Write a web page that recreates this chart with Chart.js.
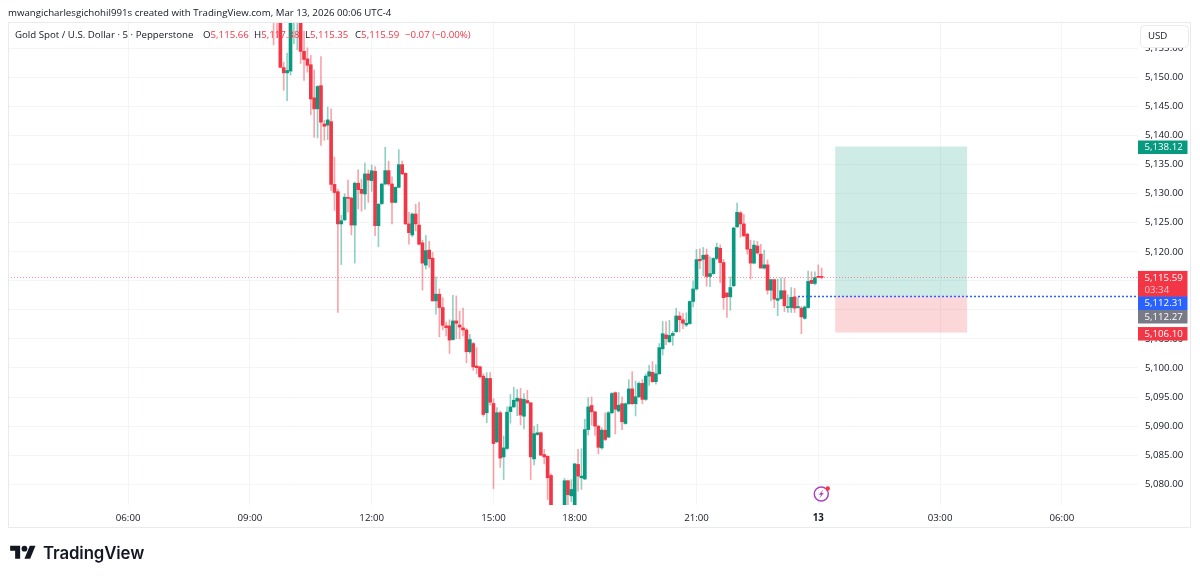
<!DOCTYPE html>
<html>
<head>
<meta charset="utf-8">
<title>Gold Spot / U.S. Dollar</title>
<script src="https://cdn.jsdelivr.net/npm/chart.js@4"></script>
<style>
    body { margin: 0; background: #fff; width: 1200px; height: 578px; overflow: hidden; position: relative; }
    canvas { display: block; position: absolute; left: 0; top: 0; }
    .txt { position: absolute; white-space: nowrap; font: 9.7px "Open Sans", sans-serif; color: #131722; }
    .red { color: #f23645; }
    .logo { font: 600 16.8px Inter, sans-serif; left: 43px; top: 543px; letter-spacing: -0.1px; }
</style>
</head>
<body>
<canvas id="myChart" width="1200" height="578"></canvas>
<div class="txt" style="left:8px;top:6px">mwangicharlesgichohil991s created with TradingView.com, Mar 13, 2026 00:06 UTC-4</div>
<div class="txt" style="left:15px;top:28px">Gold Spot / U.S. Dollar · 5 · Pepperstone</div>
<div class="txt" style="left:203px;top:28px">O<span class="red">5,115.66</span></div>
<div class="txt" style="left:254px;top:28px">H<span class="red">5,117.38</span></div>
<div class="txt" style="left:305px;top:28px">L<span class="red">5,115.35</span></div>
<div class="txt" style="left:355px;top:28px">C<span class="red">5,115.59</span></div>
<div class="txt red" style="left:405px;top:28px">−0.07 (−0.00%)</div>
<svg style="position:absolute;left:10px;top:543px" width="26" height="20" viewBox="0 0 36 28"><path d="M14 22H7V11H0V4h14v18zM28 22h-8l7.5-18h8L28 22z" fill="#131722"/><circle cx="20" cy="8" r="4" fill="#131722"/></svg>
<div class="txt logo">TradingView</div>
<script>
// time axis starts at 03:05, 5 minute bars, no bars in the 17:00-18:00 break
const categories = [];
let minutes = 185;
for (let n = 0; n < 334; n++) {
    categories.push(String(Math.floor(minutes / 60)).padStart(2, '0') + ':' + String(minutes % 60).padStart(2, '0'));
    minutes += 5;
    if (minutes === 1020) minutes = 1080;
    minutes = minutes % 1440;
}

const xTickTimes = ['06:00', '09:00', '12:00', '15:00', '18:00', '21:00', '00:00', '03:00'];
const xTickLabels = ['06:00', '09:00', '12:00', '15:00', '18:00', '21:00', '13', '03:00'];

const firstBarTime = '09:35';

const opens = [
    5164, 5162, 5162, 5151.7, 5150.8, 5151.1, 5161, 5162.5, 5161, 5154.5,
    5153.2, 5152.2, 5146.5, 5144.6, 5148.6, 5142, 5141.8, 5142.4, 5131.6, 5130.35,
    5124.8, 5125.5, 5129.3, 5129.25, 5124.6, 5131.8, 5130.75, 5129.95, 5133.4, 5132.25,
    5133.85, 5124.5, 5128.3, 5131.67, 5133.97, 5131.67, 5128.5, 5131.1, 5135, 5133.5,
    5124.8, 5122.9, 5126.5, 5124.6, 5121.55, 5117.7, 5120.3, 5118.9, 5111.55, 5112.7,
    5110.4, 5107.25, 5107.25, 5104.9, 5108.1, 5107.4, 5106.9, 5106.55, 5102.8, 5104.2,
    5100.35, 5100.2, 5098.6, 5092.3, 5098.2, 5093.9, 5087.3, 5092.3, 5084.7, 5086.15,
    5092.5, 5093.3, 5094.3, 5094.7, 5091.7, 5094.4, 5094, 5084.35, 5088.55, 5088.85,
    5085.1, 5084.8, 5081.5, 5075, 5074, 5073, 5074, 5080.6, 5078, 5075,
    5083.4, 5081.1, 5080.9, 5089.4, 5093.55, 5092.45, 5090, 5086.25, 5089.3, 5088.1,
    5092.3, 5095.75, 5092.6, 5093.85, 5090.45, 5093.85, 5096.4, 5093.85, 5095.05, 5097.35,
    5094.6, 5098.6, 5099.25, 5097.65, 5099, 5103.3, 5105.7, 5104.5, 5105.6, 5106.25,
    5108.95, 5108.3, 5107.4, 5107.65, 5111.45, 5113.6, 5118.7, 5118.7, 5119.45, 5115.75,
    5116.25, 5118.85, 5120.6, 5118.15, 5112.9, 5112.25, 5114.15, 5124.3, 5126.7, 5124.8,
    5123.05, 5120.45, 5118.05, 5121, 5119.6, 5117.2, 5117.75, 5113.4, 5115.2, 5111.65,
    5111.95, 5113.3, 5110.4, 5110.4, 5112.25, 5110.4, 5110.3, 5108.55, 5110.4, 5115.1,
    5114.55, 5115.7, 5115.66
];
const highs = [
    5165, 5165, 5164, 5152.6, 5154.2, 5162, 5164, 5164, 5163, 5158,
    5155.1, 5153.8, 5151.3, 5148.6, 5153.6, 5142.6, 5144.9, 5144.6, 5136.3, 5130.8,
    5126.3, 5130, 5132.35, 5129.4, 5132, 5134.1, 5132.5, 5135.25, 5134.1, 5134.95,
    5134.65, 5128.3, 5131.7, 5138, 5135.6, 5132.9, 5131.2, 5137.6, 5135.6, 5133.6,
    5126.8, 5126.7, 5128.2, 5128.5, 5122, 5122.8, 5121.8, 5119.9, 5115.7, 5113.6,
    5112.1, 5107.9, 5108.3, 5112.5, 5112.4, 5109.8, 5110.3, 5106.8, 5105.8, 5104.4,
    5103.5, 5100.3, 5099, 5099.2, 5099.2, 5094.7, 5093.2, 5092.6, 5088.3, 5093.3,
    5095.45, 5096.7, 5096.3, 5096.5, 5095.6, 5096.15, 5094.1, 5090, 5090.3, 5089,
    5086, 5084.9, 5081.8, 5075.5, 5075.4, 5075, 5081, 5080.7, 5080.8, 5083.55,
    5086, 5086.1, 5091.15, 5094.9, 5095, 5092.6, 5090.1, 5089.7, 5092.3, 5092.5,
    5095.75, 5095.9, 5095.8, 5095, 5094, 5098, 5099.35, 5097.75, 5097.6, 5098,
    5099, 5100.45, 5101.1, 5100.6, 5104.2, 5108, 5108, 5108.2, 5106.3, 5110.3,
    5109.65, 5109.4, 5109.5, 5111.55, 5115, 5120.4, 5120.5, 5120.75, 5120.5, 5119.15,
    5119, 5121.5, 5121.2, 5118.7, 5113, 5115.7, 5124.2, 5128.4, 5127, 5126.4,
    5123.2, 5122, 5121.9, 5121.8, 5121.3, 5120.3, 5118.6, 5115.3, 5115.3, 5115.3,
    5115.5, 5115.5, 5112.6, 5113.85, 5113.7, 5112.1, 5110.6, 5110.7, 5116.7, 5116.55,
    5116.55, 5117.75, 5117.2
];
const lows = [
    5155.6, 5156.8, 5151.7, 5147.8, 5146, 5150.4, 5155.8, 5154.8, 5152.4, 5149.5,
    5150.9, 5143.6, 5139.7, 5139.6, 5138.3, 5139.2, 5139.3, 5130.5, 5127.1, 5109.55,
    5117.8, 5125.35, 5126.8, 5122.9, 5118.05, 5127.4, 5127, 5127.35, 5128.5, 5130.4,
    5122.76, 5120.86, 5128.1, 5131.5, 5131.4, 5124.8, 5128.4, 5131, 5133.3, 5124.7,
    5121.3, 5122.6, 5123.6, 5121.2, 5113.4, 5117, 5117.3, 5111.5, 5109.25, 5105.35,
    5106.55, 5105.5, 5102.5, 5104.8, 5105.05, 5105.05, 5105.5, 5100.9, 5102.5, 5099.6,
    5099, 5098.3, 5091.7, 5090.6, 5093.6, 5079.25, 5087.1, 5082.9, 5080.8, 5086,
    5090.5, 5093.2, 5091.8, 5090.2, 5089.5, 5093.9, 5080.8, 5083.3, 5088.4, 5084.9,
    5083.5, 5077.35, 5074, 5073, 5072, 5071.5, 5073.5, 5076.3, 5077, 5074.5,
    5078.8, 5079.1, 5080.8, 5088.45, 5090.15, 5088.4, 5085.2, 5086, 5087.5, 5088,
    5092.1, 5088.65, 5092.4, 5089.4, 5090.3, 5093.7, 5093.7, 5091.75, 5094.9, 5093.85,
    5094.4, 5097, 5097.5, 5097.2, 5098.9, 5102.25, 5104, 5104.4, 5103.9, 5106.1,
    5106.2, 5106.75, 5107.1, 5107.5, 5110.5, 5113.4, 5117.1, 5115.85, 5114.1, 5114,
    5116.1, 5118.6, 5114.7, 5110.1, 5108.7, 5109.95, 5114, 5124.2, 5122.5, 5122.6,
    5119.6, 5115.3, 5117.9, 5119.6, 5117.2, 5117, 5112.7, 5111.55, 5110.4, 5109,
    5111.8, 5109.7, 5109.55, 5109.55, 5109.55, 5110.3, 5105.9, 5108.4, 5110.3, 5114.5,
    5114.3, 5115.5, 5115.35
];
const closes = [
    5162, 5159.6, 5151.75, 5150.8, 5151.2, 5161, 5162.5, 5163, 5154.5, 5153.1,
    5152.1, 5146.3, 5144.6, 5148.45, 5142.3, 5141.6, 5142.7, 5131.6, 5130.2, 5124.8,
    5125.35, 5129.4, 5129.2, 5124.6, 5131.8, 5130.7, 5130.05, 5133.4, 5132.35, 5133.95,
    5124.5, 5128.2, 5131.67, 5133.97, 5131.67, 5128.5, 5131.1, 5135, 5133.4, 5124.8,
    5123.3, 5126.5, 5124.8, 5121.3, 5118.05, 5120.2, 5118.8, 5111.55, 5112.7, 5110.4,
    5107.35, 5106.95, 5104.8, 5108.1, 5107.7, 5107.05, 5106.55, 5102.8, 5104.9, 5100.2,
    5100.05, 5098.5, 5092, 5098.2, 5094.1, 5087, 5092.3, 5084.5, 5086.25, 5092.4,
    5093.3, 5094.45, 5094.8, 5091.9, 5094.6, 5094, 5084.7, 5088.7, 5088.85, 5085,
    5084.7, 5081.1, 5075.2, 5074, 5073, 5074, 5080.6, 5078.2, 5079.1, 5083.5,
    5081.4, 5081.4, 5089.4, 5093.3, 5092.45, 5090, 5086.35, 5089.3, 5087.7, 5092.3,
    5095.6, 5092.9, 5093.6, 5090.75, 5093.85, 5096.4, 5093.85, 5095.05, 5097.35, 5094.6,
    5098.6, 5099.35, 5097.65, 5099, 5103.5, 5105.9, 5105.05, 5105.6, 5105.95, 5108.95,
    5108.3, 5107.7, 5107.7, 5111.45, 5113.6, 5118.65, 5118.45, 5119.4, 5115.75, 5116.25,
    5118.85, 5120.75, 5118.15, 5112.1, 5112.25, 5113.85, 5124.1, 5126.8, 5124.8, 5122.75,
    5120.45, 5118.05, 5121.15, 5119.8, 5117.2, 5117.75, 5113.4, 5115.2, 5111.85, 5111.95,
    5113.3, 5110.7, 5110.5, 5112.15, 5110.3, 5110.5, 5108.8, 5110.5, 5114.9, 5114.55,
    5115.55, 5115.6, 5115.59
];

// long position tool and price lines
const targetPrice = 5138.12;
const entryPrice = 5112.31;
const stopPrice = 5106.10;
const lastPrice = 5115.59;
const avgPrice = 5112.27;
const countdown = '03:34';
const positionFrom = '00:25';
const positionTo = '03:40';
const entryLineFrom = '23:30';

const UP = '#089981';
const DOWN = '#f23645';
const UP_WICK = 'rgba(8, 153, 129, 0.45)';
const DOWN_WICK = 'rgba(242, 54, 69, 0.45)';
const GRID = '#f3f4f6';
const FRAME = '#e9eaee';
const FONT = '"Open Sans", sans-serif';
const FONT_SIZE = 9.7;

const firstBar = categories.indexOf(firstBarTime);
const barAt = (k) => (k >= firstBar && k - firstBar < opens.length ? k - firstBar : -1);

const bodies = categories.map((_, k) => (barAt(k) < 0 ? null : [opens[barAt(k)], closes[barAt(k)]]));
const wicks = categories.map((_, k) => (barAt(k) < 0 ? null : [lows[barAt(k)], highs[barAt(k)]]));
const isUp = (k) => barAt(k) >= 0 && closes[barAt(k)] >= opens[barAt(k)];

const fmt = (v) => v.toLocaleString('en-US', { minimumFractionDigits: 2, maximumFractionDigits: 2 });

function priceTag(ctx, y, h, color, text, sub) {
    ctx.fillStyle = color;
    ctx.fillRect(1138, y, 49.5, h);
    ctx.font = FONT_SIZE + 'px ' + FONT;
    ctx.textAlign = 'left';
    ctx.textBaseline = 'middle';
    ctx.fillStyle = '#fff';
    ctx.fillText(text, 1144.5, y + 7);
    if (sub) {
        ctx.fillStyle = 'rgba(255, 255, 255, 0.7)';
        ctx.fillText(sub, 1144.5, y + 19.5);
    }
}

const overlay = {
    id: 'overlay',
    beforeDatasetsDraw(chart) {
        const { ctx, scales: { x, y } } = chart;
        const left = x.getPixelForValue(categories.lastIndexOf(positionFrom));
        const right = x.getPixelForValue(categories.lastIndexOf(positionTo));
        ctx.save();
        ctx.fillStyle = 'rgba(8, 153, 129, 0.2)';
        ctx.fillRect(left, y.getPixelForValue(targetPrice), right - left, y.getPixelForValue(entryPrice) - y.getPixelForValue(targetPrice));
        ctx.fillStyle = 'rgba(242, 54, 69, 0.2)';
        ctx.fillRect(left, y.getPixelForValue(entryPrice), right - left, y.getPixelForValue(stopPrice) - y.getPixelForValue(entryPrice));
        ctx.restore();
    },
    afterDatasetsDraw(chart) {
        const { ctx, chartArea, scales: { x, y } } = chart;
        ctx.save();

        // last price and entry lines
        ctx.beginPath();
        ctx.setLineDash([1, 2]);
        ctx.lineWidth = 1;
        ctx.strokeStyle = 'rgba(242, 54, 69, 0.55)';
        ctx.moveTo(chartArea.left, Math.round(y.getPixelForValue(lastPrice)) + 0.5);
        ctx.lineTo(chartArea.right, Math.round(y.getPixelForValue(lastPrice)) + 0.5);
        ctx.stroke();

        ctx.beginPath();
        ctx.setLineDash([2, 2]);
        ctx.lineWidth = 1.4;
        ctx.strokeStyle = '#2962ff';
        ctx.moveTo(x.getPixelForValue(categories.lastIndexOf(entryLineFrom)), y.getPixelForValue(entryPrice));
        ctx.lineTo(chartArea.right, y.getPixelForValue(entryPrice));
        ctx.stroke();
        ctx.setLineDash([]);

        // frame
        ctx.lineWidth = 1;
        ctx.strokeStyle = FRAME;
        ctx.strokeRect(8.5, 22.5, 1182, 505);

        // USD box
        ctx.fillStyle = '#fff';
        ctx.beginPath();
        ctx.roundRect(1140.5, 25.5, 48, 22, 4);
        ctx.fill();
        ctx.stroke();
        ctx.fillStyle = '#131722';
        ctx.font = FONT_SIZE + 'px ' + FONT;
        ctx.textAlign = 'left';
        ctx.textBaseline = 'middle';
        ctx.fillText('USD', 1148, 36.5);

        // price tags on the axis
        priceTag(ctx, y.getPixelForValue(targetPrice) - 6, 13.5, UP, fmt(targetPrice));
        priceTag(ctx, y.getPixelForValue(lastPrice) - 6.5, 26, DOWN, fmt(lastPrice), countdown);
        priceTag(ctx, 296.5, 13.5, '#2962ff', fmt(entryPrice));
        priceTag(ctx, 310, 13.5, '#787b86', fmt(avgPrice));
        priceTag(ctx, y.getPixelForValue(stopPrice) - 5.5, 13.5, DOWN, fmt(stopPrice));

        // bolt marker above the 13 tick
        const cx = x.getPixelForValue(categories.lastIndexOf('00:00')) + 3;
        const cy = 494;
        ctx.beginPath();
        ctx.arc(cx, cy, 7, 0, Math.PI * 2);
        ctx.lineWidth = 1.5;
        ctx.strokeStyle = '#ab47bc';
        ctx.stroke();
        ctx.beginPath();
        ctx.moveTo(cx + 2, cy - 4.5);
        ctx.lineTo(cx - 2.5, cy + 0.8);
        ctx.lineTo(cx - 0.2, cy + 0.8);
        ctx.lineTo(cx - 2, cy + 4.5);
        ctx.lineTo(cx + 2.5, cy - 1);
        ctx.lineTo(cx + 0.2, cy - 1);
        ctx.closePath();
        ctx.fillStyle = '#ab47bc';
        ctx.fill();
        ctx.beginPath();
        ctx.arc(cx + 6.5, cy - 5.5, 2.2, 0, Math.PI * 2);
        ctx.fillStyle = '#f23645';
        ctx.fill();

        ctx.restore();
    }
};

const isMarked = (k) => xTickTimes.includes(categories[k]);

new Chart(document.getElementById('myChart').getContext('2d'), {
    type: 'bar',
    data: {
        labels: categories,
        datasets: [
            {
                label: 'Body',
                data: bodies,
                order: 1,
                grouped: false,
                barThickness: 3,
                minBarLength: 1,
                borderWidth: 0,
                backgroundColor: (c) => (isUp(c.dataIndex) ? UP : DOWN)
            },
            {
                label: 'Wick',
                data: wicks,
                order: 2,
                grouped: false,
                barThickness: 1,
                borderWidth: 0,
                backgroundColor: (c) => (isUp(c.dataIndex) ? UP_WICK : DOWN_WICK)
            }
        ]
    },
    options: {
        responsive: false,
        animation: false,
        devicePixelRatio: 1,
        layout: { padding: { left: 8, top: 22, right: 9, bottom: 50 } },
        plugins: { legend: { display: false }, tooltip: { enabled: false } },
        scales: {
            x: {
                offset: true,
                grid: {
                    offset: false,
                    drawTicks: false,
                    color: (c) => (c.index !== undefined && isMarked(c.index) ? GRID : 'transparent')
                },
                border: { display: false },
                afterFit(scale) { scale.height = 23; },
                ticks: {
                    autoSkip: false,
                    maxRotation: 0,
                    minRotation: 0,
                    padding: 7,
                    color: '#131722',
                    font: (c) => ({
                        family: FONT,
                        size: FONT_SIZE,
                        weight: categories[c.index] === '00:00' ? 'bold' : 'normal'
                    }),
                    callback(value, index) {
                        const t = xTickTimes.indexOf(categories[index]);
                        return t < 0 ? '' : xTickLabels[t];
                    }
                }
            },
            y: {
                position: 'right',
                min: 5076.42,
                max: 5159.55,
                grid: { color: GRID, drawTicks: false },
                border: { display: false },
                afterFit(scale) { scale.width = 53; },
                ticks: {
                    stepSize: 5,
                    includeBounds: false,
                    padding: 7,
                    color: '#131722',
                    font: { family: FONT, size: FONT_SIZE },
                    callback: (v) => fmt(v)
                }
            }
        }
    },
    plugins: [overlay]
});
</script>
</body>
</html>
